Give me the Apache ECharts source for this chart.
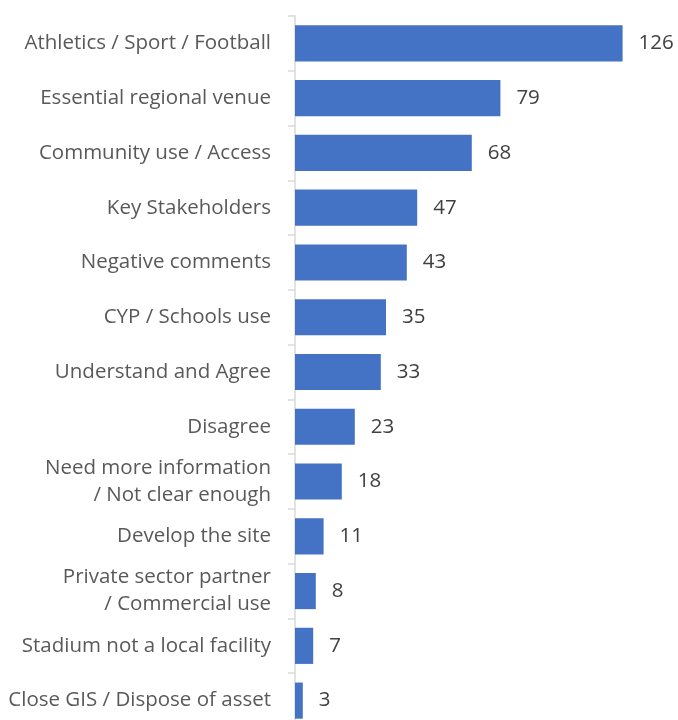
<!DOCTYPE html>
<html><head><meta charset="utf-8">
<script src="https://cdn.jsdelivr.net/npm/echarts@6/dist/echarts.min.js"></script>
<style>html,body{margin:0;padding:0;background:#fff;overflow:hidden}#c{width:678px;height:728px}</style>
</head><body><div id="c"></div>
<script>
const categories = [
  "Athletics / Sport / Football",
  "Essential regional venue",
  "Community use / Access",
  "Key Stakeholders",
  "Negative comments",
  "CYP / Schools use",
  "Understand and Agree",
  "Disagree",
  "Need more information\n/ Not clear enough",
  "Develop the site",
  "Private sector partner\n/ Commercial use",
  "Stadium not a local facility",
  "Close GIS / Dispose of asset"
];
const values = [126, 79, 68, 47, 43, 35, 33, 23, 18, 11, 8, 7, 3];

const chart = echarts.init(document.getElementById('c'), null, {renderer: 'canvas'});
const font = "'Open Sans', 'Noto Sans', sans-serif";
chart.setOption({
  animation: false,
  grid: {left: 295, top: 16, right: 19, bottom: 0, containLabel: false},
  xAxis: {type: 'value', min: 0, max: 140, show: false},
  yAxis: {
    type: 'category', data: categories, inverse: true,
    axisLine: {show: true, lineStyle: {color: '#D9D9D9', width: 1.5}},
    axisTick: {show: true, length: 7, lineStyle: {color: '#D9D9D9', width: 1.5}},
    axisLabel: {color: '#595959', fontSize: 20.5, fontFamily: font, margin: 24, lineHeight: 27, align: 'right'},
    splitLine: {show: false}
  },
  series: [{
    type: 'bar', data: values, barCategoryGap: '34%',
    itemStyle: {color: '#4472C4'},
    label: {show: true, position: 'right', distance: 16, color: '#404040', fontSize: 20.5, fontFamily: font}
  }]
});
</script></body></html>
